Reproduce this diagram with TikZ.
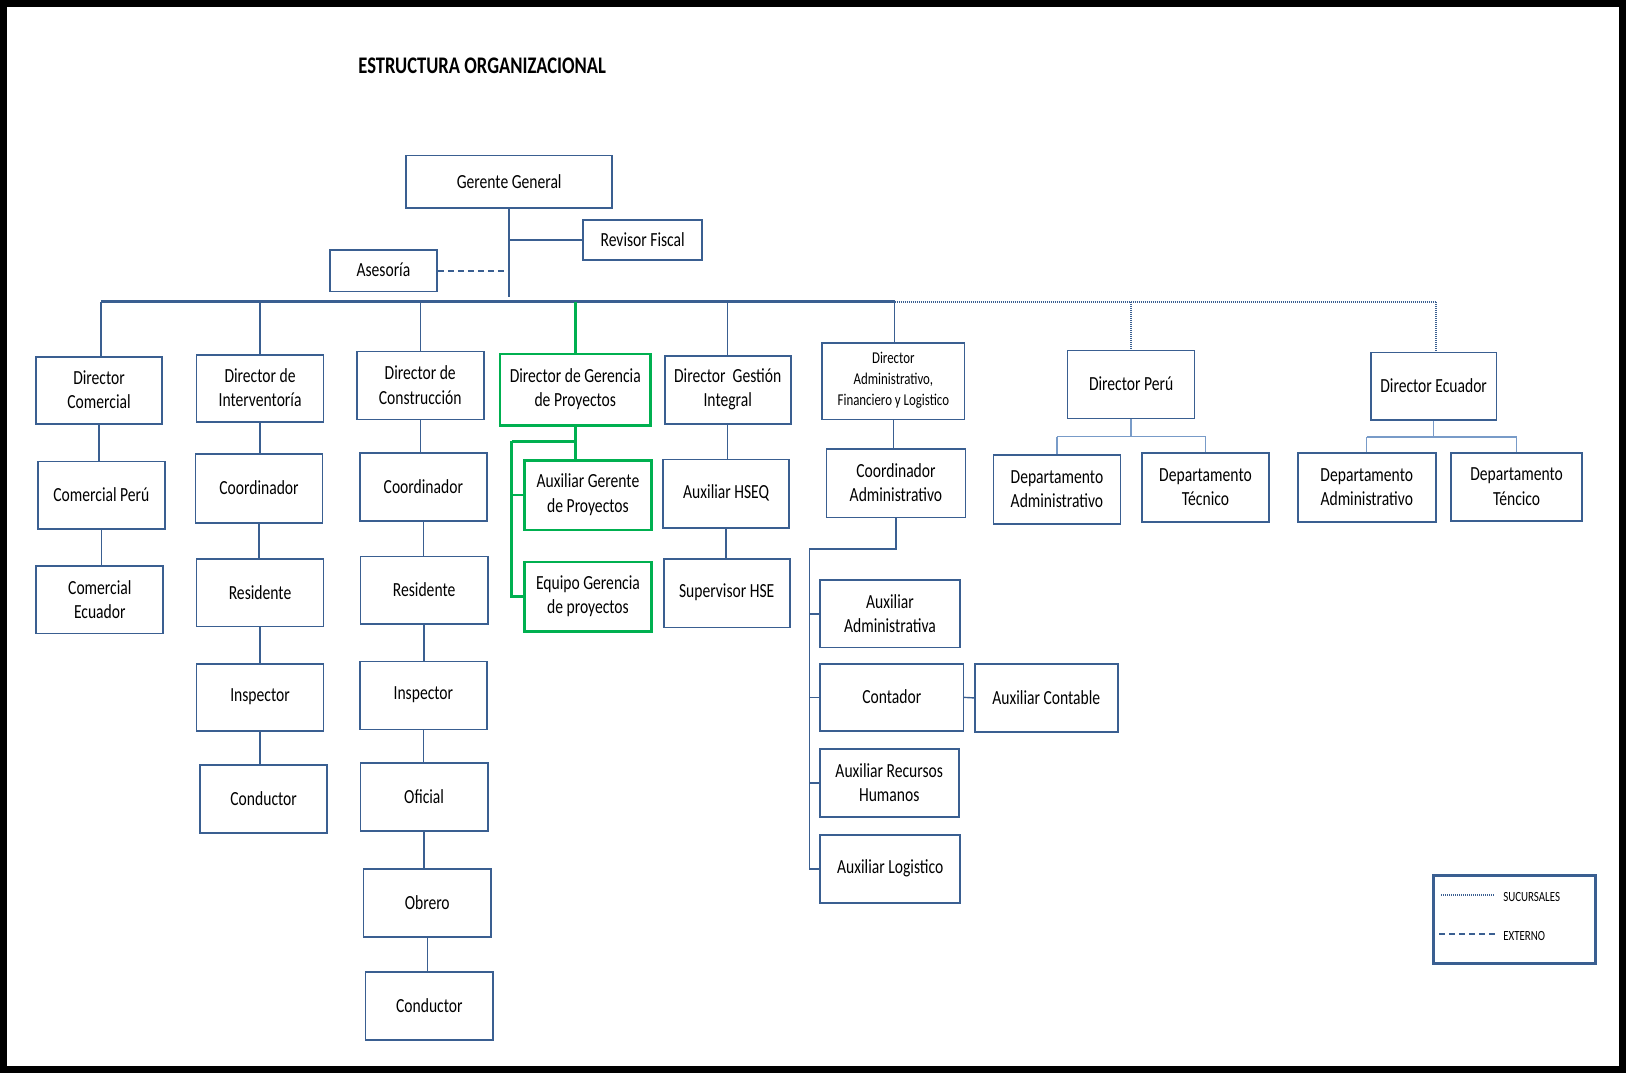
\documentclass[tikz,border=0pt]{standalone}
\usepackage{fontspec}
\setmainfont{Carlito}[FakeStretch=0.78]
\usetikzlibrary{fit}
\definecolor{bxc}{RGB}{58,95,145}
\definecolor{grc}{RGB}{0,176,80}
\definecolor{lbc}{RGB}{120,155,200}
\tikzset{
  box/.style={draw=bxc,line width=1.7pt,inner sep=0pt},
  gbox/.style={draw=grc,line width=2.6pt},
  boxtext/.style={inner sep=0pt,align=center,font=\fontsize{20}{24.5}\selectfont},
  smalltext/.style={font=\fontsize{16.5}{21}\selectfont},
  legbox/.style={draw=bxc,line width=3pt,inner sep=0pt},
  ln/.style={draw=bxc,line width=1.4pt},
  busln/.style={draw=bxc,line width=2.6pt},
  gln/.style={draw=grc,line width=2.6pt},
  lln/.style={draw=lbc,line width=1.3pt},
  dotln/.style={draw=bxc,line width=1.6pt,dash pattern=on 1pt off 1pt},
  dashln/.style={draw=bxc,line width=2pt,dash pattern=on 6pt off 4pt},
  legtext/.style={anchor=west,inner sep=0pt,font=\fontsize{14}{16}\selectfont}
}
% \bx[box options]{text options}{name}{x1}{y1}{x2}{y2}{text}
\newcommand\bx[7][]{\bxi{#1}{#2}{#3}{#4}{#5}{#6}{#7}}
\newcommand\bxi[8]{%
  \node[box,#1,fit={(#4,#5) (#6,#7)}] (#3) {};
  \node[boxtext,#2] (#3-t) at ([yshift=0.5pt]#3.center) {#8};}
\begin{document}
\begin{tikzpicture}[x=1.037pt,y=-1.037pt]
\useasboundingbox (0,0) rectangle (1568,1035);
\fill[white] (0,0) rectangle (1568,1035);
\draw[line width=7pt] (3.5,3.5) rectangle (1564.5,1031.5);

\node[font=\fontsize{23.8}{28}\selectfont\bfseries] (title) at (465,63.5) {ESTRUCTURA ORGANIZACIONAL};

% top
\bx{}{gg}{391.5}{150}{590.5}{200.5}{Gerente General}
\bx{}{rf}{562.5}{212}{677}{250.5}{Revisor Fiscal}
\bx{}{as}{318}{241}{421.5}{281}{Asesoría}

% column 1
\bx{}{dc}{34.5}{344}{156.5}{409}{Director\\Comercial}
\bx{}{cp}{36.5}{445}{159}{510}{Comercial Perú}
\bx{}{ce}{35}{546}{157.5}{611}{Comercial\\Ecuador}

% column 2
\bx{}{di}{189.5}{342}{312}{407}{Director de\\Interventoría}
\bx{}{ctwo}{188.5}{438}{311}{504}{Coordinador}
\bx{}{rtwo}{189.5}{539}{312}{604}{Residente}
\bx{}{itwo}{189.5}{640}{312}{705}{Inspector}
\bx{}{ktwo}{193}{738}{315.5}{803}{Conductor}

% column 3
\bx{}{dco}{344}{339}{466.5}{404.5}{Director de\\Construcción}
\bx{}{cthree}{347}{437}{469.5}{502.5}{Coordinador}
\bx{}{rthree}{347.5}{536.5}{470.5}{601.5}{Residente}
\bx{}{ithree}{347}{638}{469.5}{703.5}{Inspector}
\bx{}{othree}{347.5}{736}{470.5}{801.5}{Oficial}
\bx{}{obthree}{350.5}{838}{473.5}{903.5}{Obrero}
\bx{}{kthree}{352.5}{937.5}{475.5}{1003}{Conductor}

% column 4 (green)
\bx[gbox]{}{dg}{482}{341.5}{627.5}{410.5}{Director de Gerencia\\de Proyectos}
\bx[gbox]{}{ag}{506}{444}{628}{511}{Auxiliar Gerente\\de Proyectos}
\bx[gbox]{}{eg}{506}{542}{628}{609}{Equipo Gerencia\\de proyectos}

% column 5
\bx{}{dgi}{641}{343}{762.5}{409}{Director~~Gestión\\Integral}
\bx{}{ah}{639.5}{443}{761}{509}{Auxiliar HSEQ}
\bx{}{sh}{640}{539}{761.5}{605}{Supervisor HSE}

% column 6
\bx{smalltext}{dafl}{793}{330.5}{930}{404.5}{Director\\Administrativo,\\Financiero y Logistico}
\bx{}{ca}{797}{433}{931}{499}{Coordinador\\Administrativo}
\bx{}{aa}{791}{559.5}{925.5}{624.5}{Auxiliar\\Administrativa}
\bx{}{ct}{791}{640}{929}{705}{Contador}
\bx{}{ac}{940}{640}{1078}{706}{Auxiliar Contable}
\bx{}{arh}{790.5}{722}{924.5}{788}{Auxiliar Recursos\\Humanos}
\bx{}{al}{791}{805}{926}{871}{Auxiliar Logistico}

% column 7
\bx{}{dp}{1029.5}{338}{1152}{403.5}{Director Perú}
\bx{}{dpa}{958}{439}{1080.5}{505}{Departamento\\Administrativo}
\bx{}{dpt}{1101.5}{437}{1223.5}{503.5}{Departamento\\Técnico}

% column 8
\bx{}{de}{1322}{340}{1443}{405}{Director Ecuador}
\bx{}{dea}{1251.5}{437}{1384.5}{503.5}{Departamento\\Administrativo}
\bx{}{det}{1399.5}{437}{1525.5}{502.5}{Departamento\\Téncico}

% legend
\node[legbox,fit={(1382,844.5) (1539,929.5)}] (lg) {};
\node[legtext] (ls) at (1449.5,865) {SUCURSALES};
\node[legtext] (le) at (1449.5,902.5) {EXTERNO};
\coordinate (lsa) at (1390,863);
\coordinate (lea) at (1388,901);
\draw[dotln] (lsa) -- ++(52,0);
\draw[dashln] (lea) -- ++(56,0);

% trunk and bus
\coordinate (trk) at (491.2,286);
\coordinate (busL) at (97.3,291);
\coordinate (busM) at (862.8,291);
\coordinate (busR) at (1385,291);
\draw[ln] (gg.south) -- (gg.south |- trk);
\draw[ln] (gg.south |- rf.west) -- (rf.west);
\draw[dashln] (as.east) -- (as.east -| gg.south);
\draw[busln] (busL) -- (busM);
\draw[dotln] (busM) -- (busR);

% drops
\draw[ln] (busL) -- (busL |- dc.north);
\draw[ln] (di.north |- busL) -- (di.north);
\draw[ln] (dco.north |- busL) -- (dco.north);
\draw[gln] (dg.north |- busL) -- (dg.north);
\draw[ln] (dgi.north |- busL) -- (dgi.north);
\draw[ln] (busM) -- (busM |- dafl.north);
\draw[dotln] (dp.north |- busL) -- (dp.north);
\draw[dotln] (busR) -- (busR |- de.north);

% column chains
\draw[ln] (dc.south) -- (dc.south |- cp.north);
\draw[ln] (cp.south) -- (cp.south |- ce.north);
\draw[ln] (di.south) -- (di.south |- ctwo.north);
\draw[ln] (ctwo.south) -- (ctwo.south |- rtwo.north);
\draw[ln] (rtwo.south) -- (rtwo.south |- itwo.north);
\draw[ln] (itwo.south) -- (itwo.south |- ktwo.north);
\draw[ln] (dco.south) -- (dco.south |- cthree.north);
\draw[ln] (cthree.south) -- (cthree.south |- rthree.north);
\draw[ln] (rthree.south) -- (rthree.south |- ithree.north);
\draw[ln] (ithree.south) -- (ithree.south |- othree.north);
\draw[ln] (othree.south) -- (othree.south |- obthree.north);
\draw[ln] (obthree.south) -- (obthree.south |- kthree.north);
\draw[ln] (dgi.south) -- (dgi.south |- ah.north);
\draw[ln] (ah.south) -- (ah.south |- sh.north);
\draw[ln] (dafl.south) -- (dafl.south |- ca.north);

% green branch
\coordinate (gl) at (493.5,425.5);
\draw[gln] (dg.south) -- (dg.south |- ag.north);
\draw[gln] (gl) -- (dg.south |- gl);
\draw[gln] (gl) |- (eg.west);
\draw[gln] (gl |- ag.west) -- (ag.west);

% administrative branch
\coordinate (cv) at (780.5,529.5);
\draw[ln] (ca.south) |- (cv) -- (cv |- al.west);
\draw[ln] (cv |- aa.west) -- (aa.west);
\draw[ln] (cv |- ct.west) -- (ct.west);
\draw[ln] (cv |- arh.west) -- (arh.west);
\draw[ln] (cv |- al.west) -- (al.west);
\draw[ln] (ct.east) -- (ac.west);

% Peru
\coordinate (pj) at (1091,421);
\draw[lln] (dp.south) -- (dp.south |- pj);
\draw[lln] (dpa.north |- pj) -- (dpt.north |- pj);
\draw[lln] (dpa.north |- pj) -- (dpa.north);
\draw[lln] (dpt.north |- pj) -- (dpt.north);

% Ecuador
\coordinate (ej) at (1382.5,421.5);
\draw[lln] (de.south) -- (de.south |- ej);
\draw[lln] (dea.north |- ej) -- (det.north |- ej);
\draw[lln] (dea.north |- ej) -- (dea.north);
\draw[lln] (det.north |- ej) -- (det.north);
\end{tikzpicture}
\end{document}
